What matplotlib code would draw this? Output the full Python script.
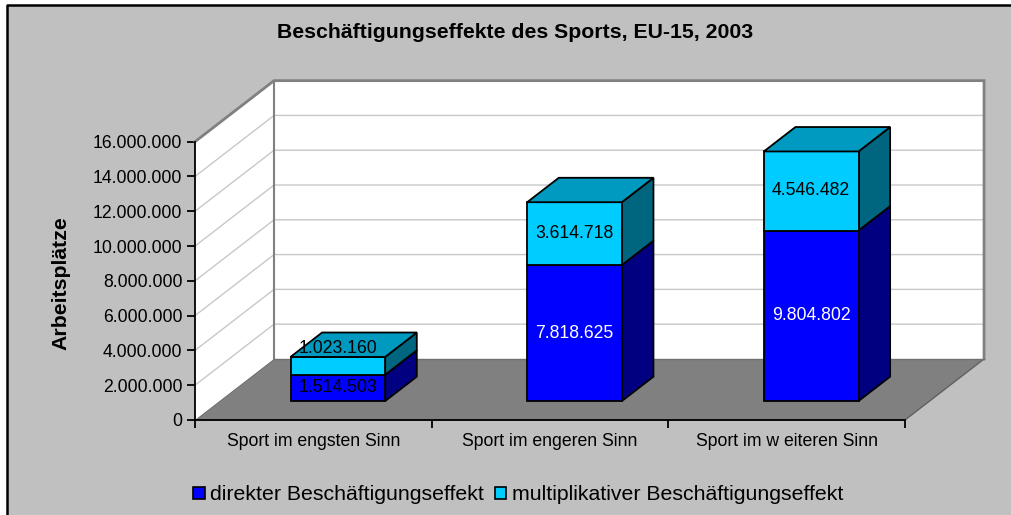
import matplotlib
matplotlib.use('Agg')

import matplotlib.pyplot as plt
import matplotlib.patches as mpatches
from matplotlib.lines import Line2D
from matplotlib.patches import Polygon, Rectangle
from matplotlib.ticker import FuncFormatter, FixedLocator

import numpy as np

plt.rcParams['font.family'] = ['Liberation Sans', 'DejaVu Sans']

# ---- data
categories = ['Sport im engsten Sinn', 'Sport im engeren Sinn', 'Sport im w eiteren Sinn']
direkt = [1514503, 7818625, 9804802]
multiplikativ = [1023160, 3614718, 4546482]
series_names = ['direkter Beschäftigungseffekt', 'multiplikativer Beschäftigungseffekt']
title = 'Beschäftigungseffekte des Sports, EU-15, 2003'
y_max = 16000000
y_step = 2000000

# ---- style
BG = '#C0C0C0'
FRONT = ['#0000FF', '#00CCFF']
SIDE = ['#000080', '#006680']
TOP = ['#0000C0', '#0099BF']
FLOOR = '#808080'
WALL_EDGE = '#808080'
GRID = '#C8C8C8'
FS = 12.7        # ticks, bar labels
FS_BIG = 15.3    # title, y label, legend

# oblique depth (data units per full depth)
DEPTH_X = 0.334          # x-units
DEPTH_Y = 3.51e6         # y-units
BAR_D0, BAR_D1 = 0.31, 0.71
BAR_W = 0.40


def fmt(v, _pos=None):
    return f'{v:,.0f}'.replace(',', '.')


W, H = 1012, 515
fig = plt.figure(figsize=(W / 100, H / 100), dpi=100)
fig.patch.set_facecolor('white')

# grey chart area; its border is only visible on the left and top
bx, by = 7 / W, 1 - 5 / H
fig.add_artist(Rectangle((bx, 0), 1 - bx, by, transform=fig.transFigure,
                         facecolor=BG, edgecolor='none', zorder=0))
fig.add_artist(Line2D([bx, bx, 1], [0, by, by], transform=fig.transFigure,
                      color='black', linewidth=1.8, solid_capstyle='butt',
                      zorder=0.5))

ax = fig.add_axes([195 / W, 95 / H, 710 / W, 278.3 / H])
ax.set_facecolor('none')
n = len(categories)
ax.set_xlim(0, n)
ax.set_ylim(0, y_max)


def proj(x, y, d):
    return (x + d * DEPTH_X, y + d * DEPTH_Y)


# ---- floor and walls
floor = Polygon([proj(0, 0, 0), proj(n, 0, 0), proj(n, 0, 1), proj(0, 0, 1)],
                closed=True, facecolor=FLOOR, edgecolor='#606060',
                linewidth=1.0, clip_on=False, zorder=1)
ax.add_patch(floor)

side_wall = Polygon([proj(0, 0, 0), proj(0, y_max, 0), proj(0, y_max, 1), proj(0, 0, 1)],
                    closed=True, facecolor='white', edgecolor='none',
                    clip_on=False, zorder=1)
ax.add_patch(side_wall)
back_wall = Polygon([proj(0, 0, 1), proj(0, y_max, 1), proj(n, y_max, 1), proj(n, 0, 1)],
                    closed=True, facecolor='white', edgecolor='none',
                    clip_on=False, zorder=1)
ax.add_patch(back_wall)

for yv in np.arange(y_step, y_max, y_step):
    xs, ys = zip(proj(0, yv, 0), proj(0, yv, 1), proj(n, yv, 1))
    ax.plot(xs, ys, color=GRID, lw=1.0, clip_on=False, zorder=2)

# wall edges
edge_pts = [proj(0, y_max, 0), proj(0, y_max, 1), proj(n, y_max, 1), proj(n, 0, 1)]
xs, ys = zip(*edge_pts)
ax.plot(xs, ys, color=WALL_EDGE, lw=2.0, clip_on=False, zorder=2,
        solid_joinstyle='miter')
xs, ys = zip(proj(0, 0, 1), proj(0, y_max, 1))
ax.plot(xs, ys, color=WALL_EDGE, lw=1.5, clip_on=False, zorder=2)
xs, ys = zip(proj(0, 0, 1), proj(n, 0, 1))
ax.plot(xs, ys, color='#707070', lw=1.0, clip_on=False, zorder=2)

# ---- bars
px_per_unit_y = (278.3 / 16e6)
for i in range(n):
    xc = i + 0.5
    x0, x1 = xc - BAR_W / 2, xc + BAR_W / 2
    segs = [(0, direkt[i]), (direkt[i], direkt[i] + multiplikativ[i])]
    for k, (b, t) in enumerate(segs):
        front = Polygon([proj(x0, b, BAR_D0), proj(x1, b, BAR_D0),
                         proj(x1, t, BAR_D0), proj(x0, t, BAR_D0)],
                        closed=True, facecolor=FRONT[k], edgecolor='black',
                        linewidth=1.3, clip_on=False, zorder=4)
        side = Polygon([proj(x1, b, BAR_D0), proj(x1, b, BAR_D1),
                        proj(x1, t, BAR_D1), proj(x1, t, BAR_D0)],
                       closed=True, facecolor=SIDE[k], edgecolor='black',
                       linewidth=1.3, clip_on=False, zorder=4)
        ax.add_patch(side)
        ax.add_patch(front)
        if k == len(segs) - 1:
            top = Polygon([proj(x0, t, BAR_D0), proj(x1, t, BAR_D0),
                           proj(x1, t, BAR_D1), proj(x0, t, BAR_D1)],
                          closed=True, facecolor=TOP[k], edgecolor='black',
                          linewidth=1.3, clip_on=False, zorder=4)
            ax.add_patch(top)

        val = t - b
        lx, ly = proj(xc, (b + t) / 2, BAR_D0)
        seg_px = val * px_per_unit_y
        off = 17 if (k == 1 and seg_px < 22) else 0
        color = 'white' if (k == 0 and val > 5e6) else 'black'
        ax.annotate(fmt(val), (lx, ly), xytext=(0, off), textcoords='offset pixels',
                    ha='center', va='center', fontsize=FS, color=color,
                    zorder=6, annotation_clip=False)

# ---- axes
for s in ['top', 'right']:
    ax.spines[s].set_visible(False)
for s in ['left', 'bottom']:
    ax.spines[s].set_color('black')
    ax.spines[s].set_linewidth(1.3)
    ax.spines[s].set_zorder(3)

ax.yaxis.set_major_locator(FixedLocator(np.arange(0, y_max + 1, y_step)))
ax.yaxis.set_major_formatter(FuncFormatter(fmt))
ax.tick_params(axis='y', direction='out', length=6, width=1.3, pad=3,
               labelsize=FS, colors='black')

ax.set_xticks(np.arange(n) + 0.5)
ax.set_xticklabels(categories, fontsize=FS)
ax.set_xticks(np.arange(n + 1), minor=True)
ax.tick_params(axis='x', which='major', length=0, pad=9)
ax.tick_params(axis='x', which='minor', direction='out', length=6, width=1.3)

ax.set_ylabel('Arbeitsplätze', fontsize=FS_BIG, fontweight='bold')
ax.yaxis.set_label_coords(-0.176, 0.492)

fig.text(515 / W, 1 - 33 / H, title, ha='center', va='center',
         fontsize=FS_BIG, fontweight='bold')

handles = [mpatches.Patch(facecolor=FRONT[0], edgecolor='black', linewidth=1.2),
           mpatches.Patch(facecolor=FRONT[1], edgecolor='black', linewidth=1.2)]
fig.legend(handles, series_names, loc='center', bbox_to_anchor=(518 / W, 1 - 495 / H),
           ncol=2, frameon=False, fontsize=FS_BIG, handlelength=0.55, handleheight=0.55,
           handletextpad=0.25, columnspacing=0.5)

fig.savefig('out.png', dpi=100, facecolor='white')
